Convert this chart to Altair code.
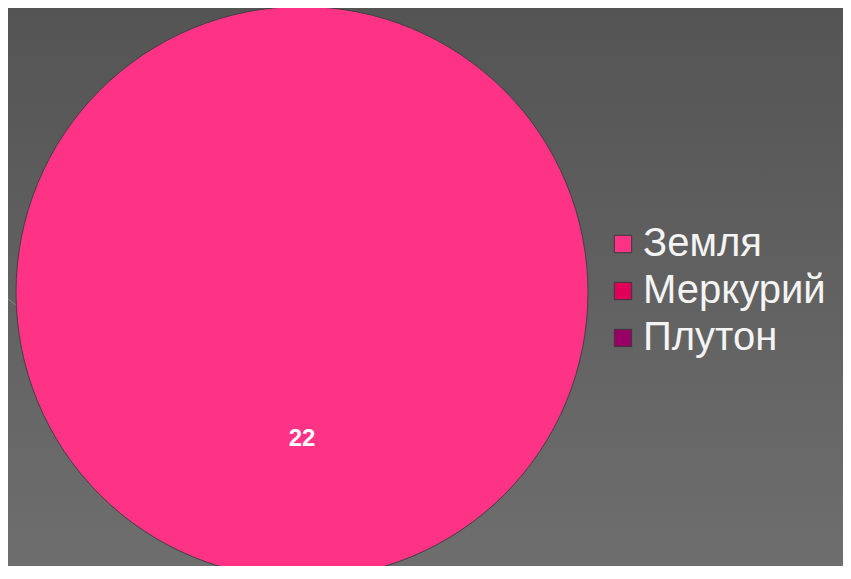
import altair as alt
import pandas as pd

categories = ["Земля", "Меркурий", "Плутон"]
values = [22, 0, 0]
colors = ["#FF3385", "#E0005A", "#990066"]

df = pd.DataFrame({"planet": categories, "value": values})
bg_df = pd.DataFrame({"k": [0]})

VIEW_W = 588
VIEW_H = 558
PAD_R = 247
CY = 284.5

background = alt.Chart(bg_df).mark_rect(
    fill=alt.Gradient(
        gradient="linear",
        stops=[alt.GradientStop(color="#545454", offset=0),
               alt.GradientStop(color="#6e6e6e", offset=1)],
        x1=0, x2=0, y1=0, y2=1,
    )
).encode(
    x=alt.value(0), x2=alt.value(VIEW_W + PAD_R),
    y=alt.value(0), y2=alt.value(VIEW_H),
)

deco = alt.Chart(bg_df).mark_rule(color="#8c8c8c", strokeWidth=1, opacity=0.8).encode(
    x=alt.value(-8), x2=alt.value(372), y=alt.value(285), y2=alt.value(572)
)

color_scale = alt.Scale(domain=categories, range=colors)

base = alt.Chart(df).transform_filter(alt.datum.value > 0)

pie = base.mark_arc(outerRadius=286, stroke="#404040", strokeWidth=1).encode(
    theta=alt.Theta("value:Q", stack=True),
    y=alt.value(CY),
    color=alt.Color(
        "planet:N",
        scale=color_scale,
        sort=categories,
        legend=alt.Legend(
            title=None,
            orient="none",
            legendX=595,
            legendY=216,
            symbolType="square",
            symbolSize=300,
            symbolStrokeColor="#3a3a3a",
            symbolStrokeWidth=1,
            symbolOpacity=1,
            labelFont="Liberation Sans",
            labelFontSize=40,
            labelColor="#f4f4f4",
            labelOffset=0,
            rowPadding=7,
            padding=0,
            labelLimit=400,
        ),
    ),
)

labels = base.mark_text(
    radius=146, font="Liberation Sans", fontSize=24, fontWeight="bold",
    color="#ffffff", baseline="middle", align="center",
).encode(
    theta=alt.Theta("value:Q", stack=True),
    y=alt.value(CY),
    text=alt.Text("value:Q"),
)

chart = alt.layer(background, deco, pie, labels).properties(
    width=VIEW_W,
    height=VIEW_H,
    padding={"left": 0, "top": 0, "right": PAD_R, "bottom": 0},
    autosize=alt.AutoSizeParams(type="none"),
).configure_view(stroke=None).configure(background="#555555")

chart.save("out.html", embed_options={"renderer": "svg", "actions": False})
